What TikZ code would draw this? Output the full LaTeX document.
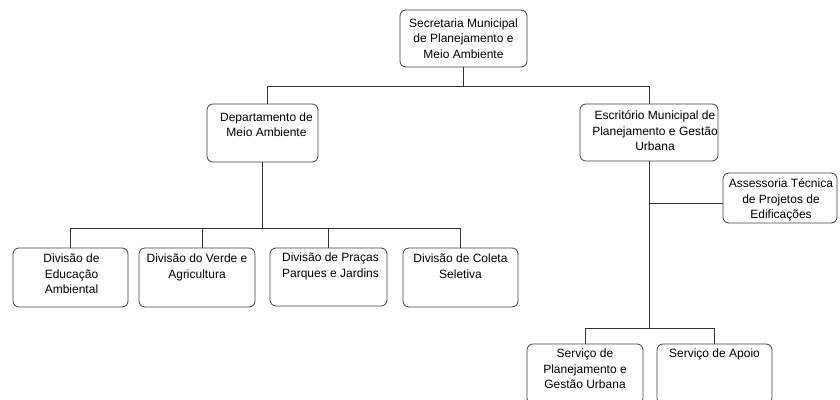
\documentclass[tikz,border=0pt]{standalone}
\usepackage{fontspec}
\setmainfont{Liberation Sans}
\usepackage{tikz}
\usetikzlibrary{calc}

\begin{document}
\begin{tikzpicture}[
    x=1pt, y=-1pt,
    caixa/.style={draw=black!75, line width=0.8pt, rounded corners=6pt, inner sep=0pt},
    rotulo/.style={anchor=north, align=center, inner sep=0pt,
        font=\fontsize{12}{15.5}\selectfont},
    linha/.style={draw=black!80, line width=0.7pt},
    every node/.style={color=black}
    ]
    \clip (0,0) rectangle (840,399);
    % Secretaria
    \node[caixa, minimum width=127pt, minimum height=57pt,
        label={[rotulo, yshift=-9pt]north:{Secretaria Municipal\\de Planejamento e\\Meio Ambiente}}]
        (sec) at (463.5,38.5) {};
    % Departamento e Escritorio
    \node[caixa, minimum width=111pt, minimum height=58pt,
        label={[rotulo, yshift=-9pt, xshift=4pt]north:{Departamento de\\Meio Ambiente}}]
        (dep) at (262.5,133) {};
    \node[caixa, minimum width=138pt, minimum height=57pt,
        label={[rotulo, yshift=-7pt, xshift=6pt]north:{Escritório Municipal de\\Planejamento e Gestão\\Urbana}}]
        (esc) at (649,132.5) {};
    \node[caixa, minimum width=114pt, minimum height=50pt,
        label={[rotulo, yshift=-6pt, xshift=1pt]north:{Assessoria Técnica\\de Projetos de\\Edificações}}]
        (ass) at (780,198) {};
    % Divisoes
    \node[caixa, minimum width=115pt, minimum height=59pt,
        label={[rotulo, yshift=-6pt, xshift=1pt]north:{Divisão de\\Educação\\Ambiental}}]
        (div1) at (70.5,277.5) {};
    \node[caixa, minimum width=116pt, minimum height=59pt,
        label={[rotulo, yshift=-6pt]north:{Divisão do Verde e\\Agricultura}}]
        (div2) at (197,277.5) {};
    \node[caixa, minimum width=117pt, minimum height=58pt,
        label={[rotulo, yshift=-5pt, xshift=2pt]north:{Divisão de Praças\\Parques e Jardins}}]
        (div3) at (328.5,277) {};
    \node[caixa, minimum width=115pt, minimum height=59pt,
        label={[rotulo, yshift=-6pt]north:{Divisão de Coleta\\Seletiva}}]
        (div4) at (460.5,277.5) {};
    % Servicos
    \node[caixa, minimum width=116pt, minimum height=60pt,
        label={[rotulo, yshift=-5pt]north:{Serviço de\\Planejamento e\\Gestão Urbana}}]
        (serv1) at (585,374) {};
    \node[caixa, minimum width=115pt, minimum height=60pt,
        label={[rotulo, yshift=-5pt]north:{Serviço de Apoio}}]
        (serv2) at (714.5,374) {};
    % Ligacoes
    \draw[linha] (sec.south) -- ++(0,19) coordinate (m1) -| ([xshift=4.5pt]dep.north);
    \draw[linha] (m1) -| (esc.north);
    \draw[linha] (dep.south) -- ++(0,66) coordinate (m2) -| (div1.north);
    \draw[linha] (m2) -| ([xshift=5pt]div2.north);
    \draw[linha] (m2) -| (div3.north);
    \draw[linha] (m2) -| (div4.north);
    \draw[linha] (esc.south) -- ++(0,167) coordinate (m3) -| (serv1.north);
    \draw[linha] (m3) -| (serv2.north);
    \draw[linha] ([yshift=-5pt]esc.south |- ass.west) -- ([yshift=-5pt]ass.west);
\end{tikzpicture}
\end{document}
